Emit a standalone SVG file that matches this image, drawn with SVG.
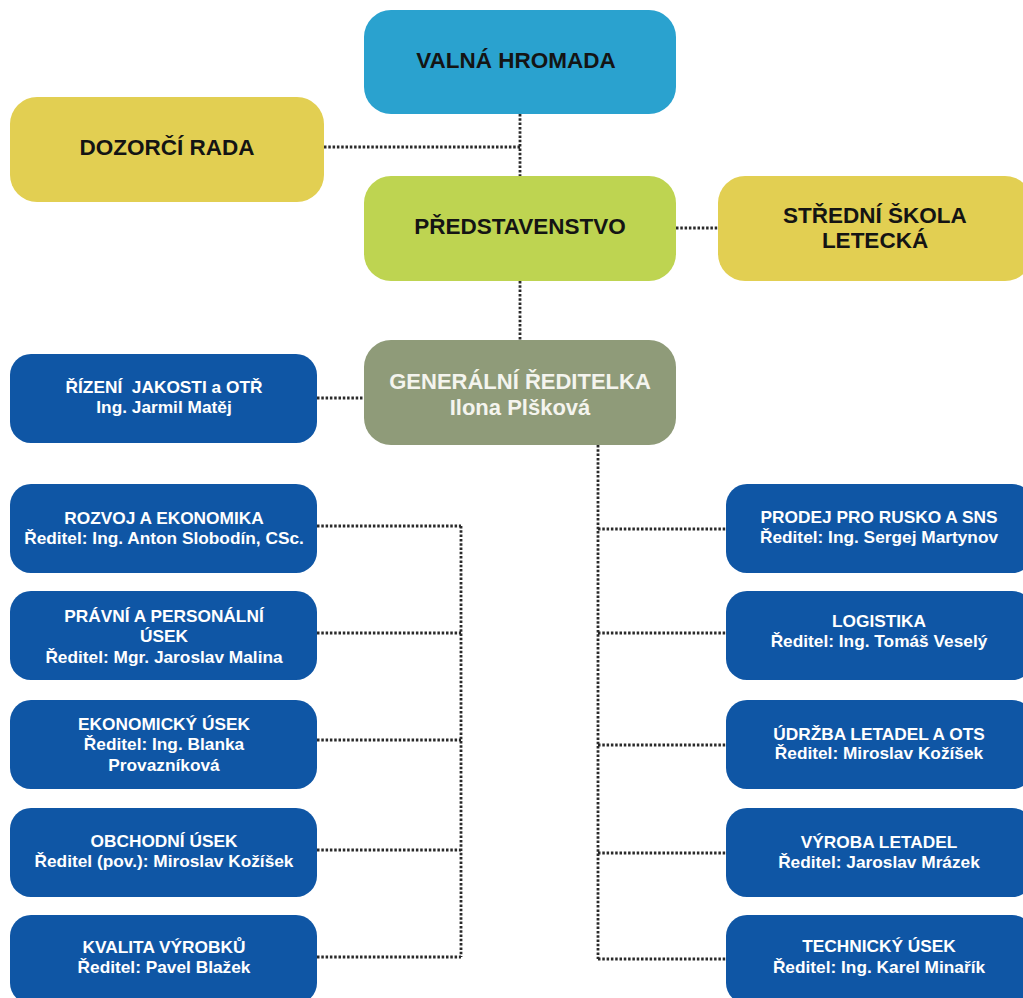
<svg xmlns="http://www.w3.org/2000/svg" width="1023" height="998" viewBox="0 0 1023 998">
<style>
.hdr{font-family:"Liberation Sans",Arial,sans-serif;font-weight:bold;font-size:22.5px;fill:#141414;text-anchor:middle;}
.gr{font-family:"Liberation Sans",Arial,sans-serif;font-weight:bold;font-size:22px;fill:#f4f4ee;text-anchor:middle;}
.sm{font-family:"Liberation Sans",Arial,sans-serif;font-weight:bold;font-size:17.3px;fill:#ffffff;text-anchor:middle;white-space:pre;}
.blue{fill:#0f56a5;}
.yel{fill:#e2cf52;}
.con{fill:none;stroke:#2a2a2a;stroke-width:2.8;stroke-dasharray:2.5 1.8;}
</style>
<rect width="1023" height="998" fill="#ffffff"/>
<g id="connectors">
<path class="con" d="M520 114V176M520 281V340M324 147H520M676 228H718M317 398H364"/>
<path class="con" d="M598 445V959M598 529H726M598 633H726M598 745H726M598 853H726M598 959H726"/>
<path class="con" d="M461 526V957M317 526H461M317 633H461M317 740H461M317 850H461M317 957H461"/>
</g>
<g id="valna">
<rect x="364" y="10" width="312" height="104" rx="27" fill="#2aa2cf"/>
<text class="hdr" x="516" y="68">VALNÁ HROMADA</text>
</g>
<g id="dozorci">
<rect class="yel" x="10" y="97" width="314" height="105" rx="27"/>
<text class="hdr" x="167" y="155">DOZORČÍ RADA</text>
</g>
<g id="predstavenstvo">
<rect x="364" y="176" width="312" height="105" rx="27" fill="#bed451"/>
<text class="hdr" x="520" y="234">PŘEDSTAVENSTVO</text>
</g>
<g id="skola">
<rect class="yel" x="718" y="176" width="314" height="105" rx="27"/>
<text class="hdr" x="875" y="223">STŘEDNÍ ŠKOLA</text>
<text class="hdr" x="875" y="248">LETECKÁ</text>
</g>
<g id="generalni">
<rect x="364" y="340" width="312" height="105" rx="27" fill="#8f9b79"/>
<text class="gr" x="520" y="389">GENERÁLNÍ ŘEDITELKA</text>
<text class="gr" x="520" y="415">Ilona Plšková</text>
</g>
<g id="rizeni">
<rect class="blue" x="10" y="354" width="307" height="89" rx="21"/>
<text class="sm" x="164" y="393" xml:space="preserve">ŘÍZENÍ  JAKOSTI a OTŘ</text>
<text class="sm" x="164" y="413">Ing. Jarmil Matěj</text>
</g>
<g id="rozvoj">
<rect class="blue" x="10" y="484" width="307" height="89" rx="21"/>
<text class="sm" x="164" y="524">ROZVOJ A EKONOMIKA</text>
<text class="sm" x="164" y="544">Ředitel: Ing. Anton Slobodín, CSc.</text>
</g>
<g id="pravni">
<rect class="blue" x="10" y="591" width="307" height="89" rx="21"/>
<text class="sm" x="164" y="622">PRÁVNÍ A PERSONÁLNÍ</text>
<text class="sm" x="164" y="642">ÚSEK</text>
<text class="sm" x="164" y="663">Ředitel: Mgr. Jaroslav Malina</text>
</g>
<g id="ekonomicky">
<rect class="blue" x="10" y="700" width="307" height="89" rx="21"/>
<text class="sm" x="164" y="730">EKONOMICKÝ ÚSEK</text>
<text class="sm" x="164" y="750">Ředitel: Ing. Blanka</text>
<text class="sm" x="164" y="771">Provazníková</text>
</g>
<g id="obchodni">
<rect class="blue" x="10" y="808" width="307" height="89" rx="21"/>
<text class="sm" x="164" y="847">OBCHODNÍ ÚSEK</text>
<text class="sm" x="164" y="867">Ředitel (pov.): Miroslav Kožíšek</text>
</g>
<g id="kvalita">
<rect class="blue" x="10" y="915" width="307" height="89" rx="21"/>
<text class="sm" x="164" y="953">KVALITA VÝROBKŮ</text>
<text class="sm" x="164" y="973">Ředitel: Pavel Blažek</text>
</g>
<g id="prodej">
<rect class="blue" x="726" y="484" width="307" height="89" rx="21"/>
<text class="sm" x="879" y="523">PRODEJ PRO RUSKO A SNS</text>
<text class="sm" x="879" y="543">Ředitel: Ing. Sergej Martynov</text>
</g>
<g id="logistika">
<rect class="blue" x="726" y="591" width="307" height="89" rx="21"/>
<text class="sm" x="879" y="627">LOGISTIKA</text>
<text class="sm" x="879" y="647">Ředitel: Ing. Tomáš Veselý</text>
</g>
<g id="udrzba">
<rect class="blue" x="726" y="700" width="307" height="89" rx="21"/>
<text class="sm" x="879" y="740">ÚDRŽBA LETADEL A OTS</text>
<text class="sm" x="879" y="759">Ředitel: Miroslav Kožíšek</text>
</g>
<g id="vyroba">
<rect class="blue" x="726" y="808" width="307" height="89" rx="21"/>
<text class="sm" x="879" y="848">VÝROBA LETADEL</text>
<text class="sm" x="879" y="868">Ředitel: Jaroslav Mrázek</text>
</g>
<g id="technicky">
<rect class="blue" x="726" y="915" width="307" height="89" rx="21"/>
<text class="sm" x="879" y="952">TECHNICKÝ ÚSEK</text>
<text class="sm" x="879" y="973">Ředitel: Ing. Karel Minařík</text>
</g>
</svg>
